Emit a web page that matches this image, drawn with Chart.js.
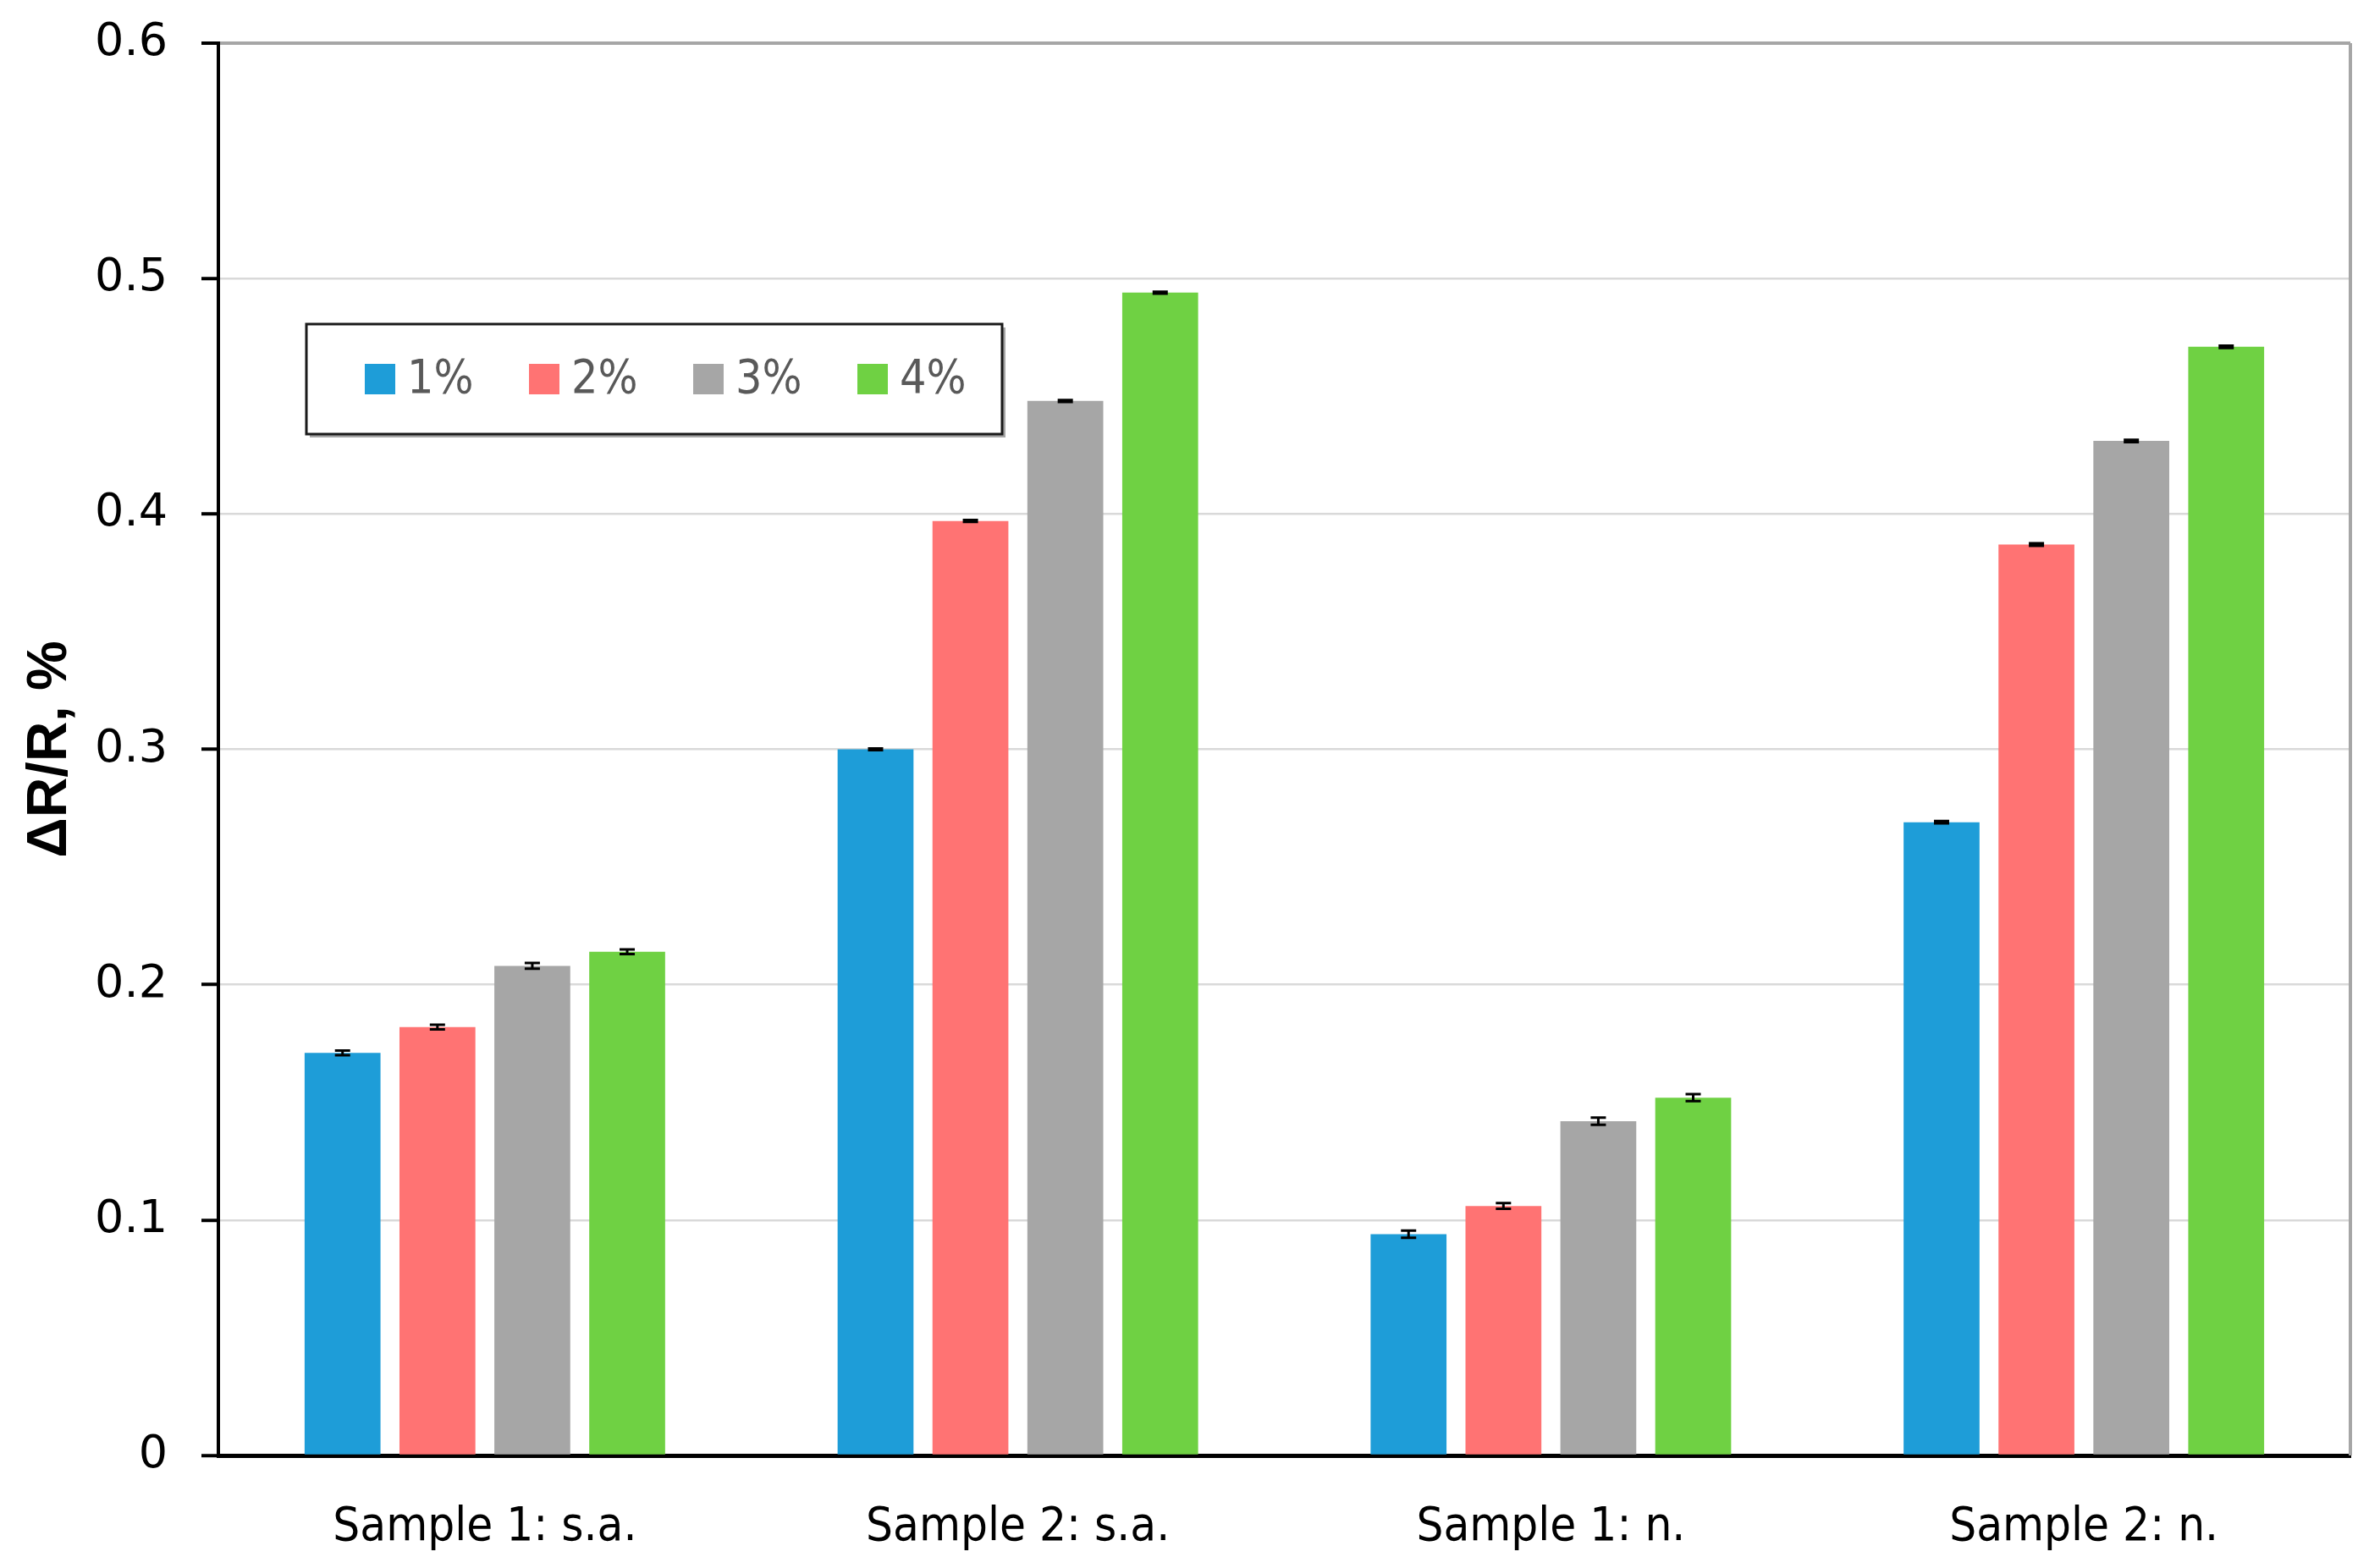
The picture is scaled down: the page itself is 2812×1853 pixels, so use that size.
<!DOCTYPE html>
<html>
<head>
<meta charset="utf-8">
<script src="https://cdn.jsdelivr.net/npm/chart.js@4.4.1/dist/chart.umd.min.js"></script>
<style>
    html, body { margin: 0; padding: 0; background: #fff; }
    #wrap { width: 2812px; height: 1853px; }
</style>
</head>
<body>
<div id="wrap"><canvas id="chart" width="2812" height="1853"></canvas></div>
<script>
// Kategorier og serier lest av figuren
const categories = ["Sample 1: s.a.", "Sample 2: s.a.", "Sample 1: n.", "Sample 2: n."];
const seriesLabels = ["1%", "2%", "3%", "4%"];
const seriesColors = ["#1E9DD8", "#FF7373", "#A6A6A6", "#6FD143"];

const values1 = [0.171, 0.300, 0.094, 0.269];
const values2 = [0.182, 0.397, 0.106, 0.387];
const values3 = [0.208, 0.448, 0.142, 0.431];
const values4 = [0.214, 0.494, 0.152, 0.471];

const errors1 = [0.0010, 0.0004, 0.0015, 0.0005];
const errors2 = [0.0010, 0.0004, 0.0012, 0.0005];
const errors3 = [0.0012, 0.0004, 0.0015, 0.0005];
const errors4 = [0.0010, 0.0004, 0.0015, 0.0005];

const yTicks = [0, 0.1, 0.2, 0.3, 0.4, 0.5, 0.6];

const allValues = [values1, values2, values3, values4];
const allErrors = [errors1, errors2, errors3, errors4];

const narrowFont = '"Liberation Sans Narrow", "DejaVu Sans Condensed", sans-serif';

// Feilstolper
const errorBarPlugin = {
    id: "errorBars",
    afterDatasetsDraw(chart) {
        const ctx = chart.ctx;
        const yScale = chart.scales.y;
        ctx.save();
        ctx.strokeStyle = "#000";
        ctx.lineWidth = 3;
        chart.data.datasets.forEach((ds, i) => {
            const meta = chart.getDatasetMeta(i);
            meta.data.forEach((bar, j) => {
                const v = ds.data[j];
                const e = ds.errors[j];
                const yTop = yScale.getPixelForValue(v + e);
                const yBot = yScale.getPixelForValue(v - e);
                ctx.beginPath();
                ctx.moveTo(bar.x, yTop);
                ctx.lineTo(bar.x, yBot);
                ctx.moveTo(bar.x - 9, yTop);
                ctx.lineTo(bar.x + 9, yTop);
                ctx.moveTo(bar.x - 9, yBot);
                ctx.lineTo(bar.x + 9, yBot);
                ctx.stroke();
            });
        });
        ctx.restore();
    }
};

// Ramme til høyre
const frameLinePlugin = {
    id: "frameLine",
    beforeDatasetsDraw(chart) {
        const a = chart.chartArea;
        const ctx = chart.ctx;
        ctx.save();
        ctx.strokeStyle = "#A6A6A6";
        ctx.lineWidth = 4;
        ctx.beginPath();
        ctx.moveTo(a.right, a.top);
        ctx.lineTo(a.right, a.bottom);
        ctx.stroke();
        ctx.restore();
    }
};

// Forklaring inne i plottet
const boxLegendPlugin = {
    id: "boxLegend",
    afterDraw(chart) {
        const a = chart.chartArea;
        const ctx = chart.ctx;
        const left = a.left + 104;
        const top = a.top + 332;
        const w = 822;
        const h = 130;
        ctx.save();
        ctx.fillStyle = "#A6A6A6";
        ctx.fillRect(left + 4, top + 4, w, h);
        ctx.fillStyle = "#fff";
        ctx.fillRect(left, top, w, h);
        ctx.strokeStyle = "#1a1a1a";
        ctx.lineWidth = 3;
        ctx.strokeRect(left, top, w, h);

        ctx.font = "55px " + narrowFont;
        ctx.textBaseline = "middle";
        ctx.textAlign = "left";
        chart.data.datasets.forEach((ds, i) => {
            const x = left + 69 + i * 194;
            const cy = top + h / 2;
            ctx.fillStyle = ds.backgroundColor;
            ctx.fillRect(x, cy - 18, 36, 36);
            ctx.fillStyle = "#595959";
            ctx.fillText(ds.label, x + 50, cy + 2);
        });
        ctx.restore();
    }
};

const datasets = seriesLabels.map((label, i) => ({
    label: label,
    data: allValues[i],
    errors: allErrors[i],
    backgroundColor: seriesColors[i],
    borderWidth: 0,
    categoryPercentage: 0.712,
    barPercentage: 0.80
}));

new Chart(document.getElementById("chart").getContext("2d"), {
    type: "bar",
    data: { labels: categories, datasets: datasets },
    plugins: [frameLinePlugin, errorBarPlugin, boxLegendPlugin],
    options: {
        responsive: false,
        animation: false,
        devicePixelRatio: 1,
        layout: { padding: { top: 51, right: 35, bottom: 0, left: 20 } },
        plugins: {
            legend: { display: false },
            tooltip: { enabled: false }
        },
        scales: {
            x: {
                grid: { display: false, drawTicks: false },
                border: { display: true, color: "#000", width: 5 },
                ticks: {
                    color: "#000",
                    padding: 52,
                    font: { family: narrowFont, size: 56 }
                },
                afterFit(scale) { scale.height = 133; }
            },
            y: {
                min: 0,
                max: 0.6,
                afterBuildTicks(scale) { scale.ticks = yTicks.map(v => ({ value: v })); },
                grid: {
                    color: ctx => (ctx.tick && ctx.tick.value === 0.6) ? "#A6A6A6" : "#D9D9D9",
                    lineWidth: ctx => (ctx.tick && ctx.tick.value === 0.6) ? 4 : 2.5,
                    tickColor: "#000",
                    tickLength: 20,
                    tickWidth: 4
                },
                border: { display: true, color: "#000", width: 4 },
                ticks: {
                    color: "#000",
                    padding: 40,
                    font: { family: "DejaVu Sans", size: 54 },
                    callback: v => v === 0 ? "0" : v.toFixed(1)
                },
                title: {
                    display: true,
                    text: "ΔR/R, %",
                    color: "#000",
                    padding: { top: 0, bottom: 0 },
                    font: { family: "Liberation Sans", size: 66, weight: "bold" }
                },
                afterFit(scale) {
                    scale.width = 238;
                    scale.paddingTop = 0;
                    scale.paddingBottom = 0;
                }
            }
        }
    }
});
</script>
</body>
</html>
